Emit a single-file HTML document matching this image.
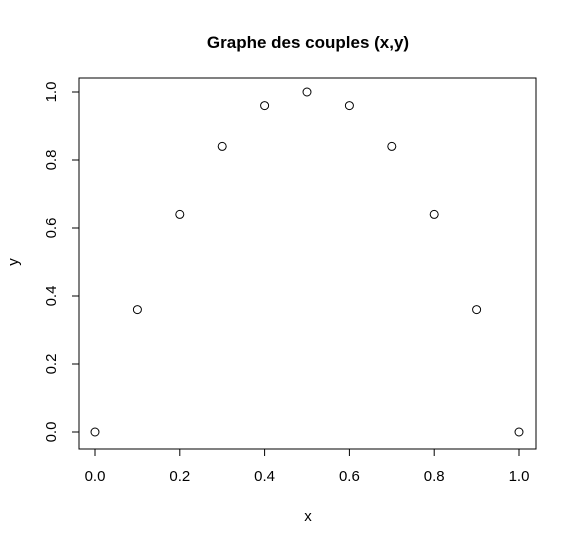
<!DOCTYPE html>
<html><head><meta charset="utf-8"><style>
body{margin:0;background:#fff;}
svg{display:block;font-family:"Liberation Sans",Arial,sans-serif;}
</style></head><body>
<svg id="chart" width="577" height="544">
<text x="308" y="48" text-anchor="middle" font-size="17" font-weight="bold">Graphe des couples (x,y)</text>
<rect x="79" y="78" width="457" height="371" fill="none" stroke="#000" stroke-width="1"/>
<text x="308" y="521" text-anchor="middle" font-size="15">x</text>
<text x="0" y="0" transform="translate(18,262) rotate(-90)" text-anchor="middle" font-size="15">y</text>
<g id="xaxis"></g>
<g id="yaxis"></g>
<g id="points"></g>
</svg>
<script>
const xValues=[0,0.1,0.2,0.3,0.4,0.5,0.6,0.7,0.8,0.9,1];
const yValues=[0,0.36,0.64,0.84,0.96,1,0.96,0.84,0.64,0.36,0];
const xTicks=[0,0.2,0.4,0.6,0.8,1];
const yTicks=[0,0.2,0.4,0.6,0.8,1];
const xTickLabels=["0.0","0.2","0.4","0.6","0.8","1.0"];
const yTickLabels=["0.0","0.2","0.4","0.6","0.8","1.0"];
const NS="http://www.w3.org/2000/svg";
function sx(v){return 95+v*424;}
function sy(v){return 432-v*340;}
function mk(t,a,p){const e=document.createElementNS(NS,t);for(const k in a)e.setAttribute(k,a[k]);p.appendChild(e);return e;}
const xa=document.getElementById('xaxis'),ya=document.getElementById('yaxis'),pg=document.getElementById('points');
let l=mk('line',{x1:sx(xTicks[0]),x2:sx(xTicks[xTicks.length-1]),y1:449,y2:449,stroke:'#000'},xa);


xTicks.forEach((v,i)=>{
 const t=mk('line',{x1:sx(v),x2:sx(v),y1:449,y2:456,stroke:'#000'},xa);
 
 
 const tx=mk('text',{x:sx(v),y:481,'text-anchor':'middle','font-size':15},xa);
 tx.textContent=xTickLabels[i];
 
 
});
l=mk('line',{x1:79,x2:79,y1:sy(yTicks[0]),y2:sy(yTicks[yTicks.length-1]),stroke:'#000'},ya);


yTicks.forEach((v,i)=>{
 const t=mk('line',{x1:72,x2:79,y1:sy(v),y2:sy(v),stroke:'#000'},ya);
 
 
 const tx=mk('text',{x:0,y:0,transform:`translate(56,${sy(v)}) rotate(-90)`,'text-anchor':'middle','font-size':15},ya);
 tx.textContent=yTickLabels[i];
 
 
});
xValues.forEach((v,i)=>{
 const c=mk('circle',{cx:sx(v),cy:sy(yValues[i]),r:4,fill:'none',stroke:'#000','stroke-width':1},pg);
 
 
});
</script>
</body></html>
